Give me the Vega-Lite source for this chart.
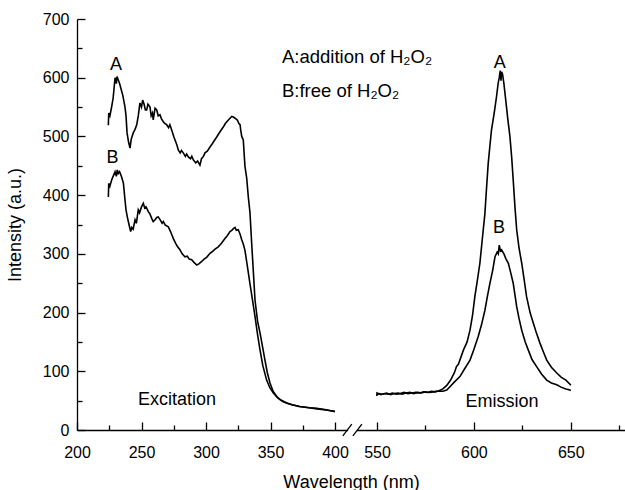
{
  "$schema": "https://vega.github.io/schema/vega-lite/v6.json",
  "width": 548,
  "height": 411,
  "autosize": {"type": "none"},
  "padding": {"left": 77, "top": 19, "right": 0, "bottom": 60},
  "background": "white",
  "config": {
    "font": "Liberation Sans",
    "view": {"stroke": null},
    "axis": {
      "grid": false,
      "domainColor": "black",
      "domainWidth": 1.3,
      "tickColor": "black",
      "tickWidth": 1.3,
      "tickCount": 40,
      "labelColor": "black",
      "labelFont": "Liberation Sans",
      "labelFontSize": 16,
      "labelOverlap": false,
      "labelFlush": false,
      "labelBound": false,
      "titleFont": "Liberation Sans",
      "titleFontSize": 18,
      "titleFontWeight": "normal",
      "titleColor": "black"
    }
  },
  "datasets": {
    "spectra": [
      {"series": "A-ex", "wl": 224.3, "intensity": 519}, {"series": "A-ex", "wl": 224.6, "intensity": 540}, {"series": "A-ex", "wl": 225.5, "intensity": 535}, {"series": "A-ex", "wl": 226.9, "intensity": 551}, {"series": "A-ex", "wl": 228, "intensity": 565}, {"series": "A-ex", "wl": 229.5, "intensity": 600}, {"series": "A-ex", "wl": 230.5, "intensity": 590}, {"series": "A-ex", "wl": 231, "intensity": 602}, {"series": "A-ex", "wl": 232, "intensity": 596}, {"series": "A-ex", "wl": 233, "intensity": 590}, {"series": "A-ex", "wl": 233.9, "intensity": 583}, {"series": "A-ex", "wl": 235.5, "intensity": 570}, {"series": "A-ex", "wl": 237.2, "intensity": 550}, {"series": "A-ex", "wl": 238, "intensity": 535}, {"series": "A-ex", "wl": 238.8, "intensity": 506}, {"series": "A-ex", "wl": 240, "intensity": 490}, {"series": "A-ex", "wl": 241.1, "intensity": 480}, {"series": "A-ex", "wl": 242, "intensity": 495}, {"series": "A-ex", "wl": 243.6, "intensity": 506}, {"series": "A-ex", "wl": 245, "intensity": 512}, {"series": "A-ex", "wl": 246.3, "intensity": 520}, {"series": "A-ex", "wl": 247.5, "intensity": 535}, {"series": "A-ex", "wl": 248.8, "intensity": 557}, {"series": "A-ex", "wl": 250, "intensity": 550}, {"series": "A-ex", "wl": 250.9, "intensity": 562}, {"series": "A-ex", "wl": 252, "intensity": 555}, {"series": "A-ex", "wl": 253, "intensity": 545}, {"series": "A-ex", "wl": 254, "intensity": 545}, {"series": "A-ex", "wl": 255, "intensity": 555}, {"series": "A-ex", "wl": 256.6, "intensity": 550}, {"series": "A-ex", "wl": 257.5, "intensity": 535}, {"series": "A-ex", "wl": 258.5, "intensity": 540}, {"series": "A-ex", "wl": 259.1, "intensity": 528}, {"series": "A-ex", "wl": 260.5, "intensity": 548}, {"series": "A-ex", "wl": 261.8, "intensity": 545}, {"series": "A-ex", "wl": 263, "intensity": 535}, {"series": "A-ex", "wl": 264.3, "intensity": 537}, {"series": "A-ex", "wl": 265.5, "intensity": 530}, {"series": "A-ex", "wl": 266.9, "intensity": 525}, {"series": "A-ex", "wl": 268, "intensity": 522}, {"series": "A-ex", "wl": 269.5, "intensity": 520}, {"series": "A-ex", "wl": 271, "intensity": 515}, {"series": "A-ex", "wl": 272, "intensity": 520}, {"series": "A-ex", "wl": 273.4, "intensity": 511}, {"series": "A-ex", "wl": 275, "intensity": 500}, {"series": "A-ex", "wl": 276, "intensity": 494}, {"series": "A-ex", "wl": 277.5, "intensity": 485}, {"series": "A-ex", "wl": 278.5, "intensity": 477}, {"series": "A-ex", "wl": 280, "intensity": 472}, {"series": "A-ex", "wl": 281, "intensity": 476}, {"series": "A-ex", "wl": 282.4, "intensity": 472}, {"series": "A-ex", "wl": 284, "intensity": 466}, {"series": "A-ex", "wl": 285, "intensity": 470}, {"series": "A-ex", "wl": 286.3, "intensity": 465}, {"series": "A-ex", "wl": 288, "intensity": 462}, {"series": "A-ex", "wl": 289, "intensity": 466}, {"series": "A-ex", "wl": 290.2, "intensity": 460}, {"series": "A-ex", "wl": 292, "intensity": 455}, {"series": "A-ex", "wl": 293.5, "intensity": 458}, {"series": "A-ex", "wl": 295.3, "intensity": 451}, {"series": "A-ex", "wl": 296.5, "intensity": 462}, {"series": "A-ex", "wl": 298, "intensity": 466}, {"series": "A-ex", "wl": 299.2, "intensity": 472}, {"series": "A-ex", "wl": 301, "intensity": 475}, {"series": "A-ex", "wl": 303.1, "intensity": 482}, {"series": "A-ex", "wl": 305, "intensity": 488}, {"series": "A-ex", "wl": 306.5, "intensity": 493}, {"series": "A-ex", "wl": 308.3, "intensity": 499}, {"series": "A-ex", "wl": 310, "intensity": 505}, {"series": "A-ex", "wl": 311.5, "intensity": 510}, {"series": "A-ex", "wl": 313.4, "intensity": 516}, {"series": "A-ex", "wl": 315, "intensity": 522}, {"series": "A-ex", "wl": 317, "intensity": 527}, {"series": "A-ex", "wl": 318.6, "intensity": 531}, {"series": "A-ex", "wl": 320, "intensity": 534}, {"series": "A-ex", "wl": 321.2, "intensity": 533}, {"series": "A-ex", "wl": 322.5, "intensity": 531}, {"series": "A-ex", "wl": 324.3, "intensity": 528}, {"series": "A-ex", "wl": 325.5, "intensity": 522}, {"series": "A-ex", "wl": 326.4, "intensity": 520}, {"series": "A-ex", "wl": 326.9, "intensity": 511}, {"series": "A-ex", "wl": 327.7, "intensity": 500}, {"series": "A-ex", "wl": 328.9, "intensity": 494}, {"series": "A-ex", "wl": 330.2, "intensity": 449}, {"series": "A-ex", "wl": 331.5, "intensity": 430}, {"series": "A-ex", "wl": 332.8, "intensity": 397}, {"series": "A-ex", "wl": 334.1, "intensity": 370}, {"series": "A-ex", "wl": 335.4, "intensity": 318}, {"series": "A-ex", "wl": 336, "intensity": 296}, {"series": "A-ex", "wl": 338, "intensity": 221}, {"series": "A-ex", "wl": 340, "intensity": 185}, {"series": "A-ex", "wl": 341.9, "intensity": 165}, {"series": "A-ex", "wl": 344, "intensity": 140}, {"series": "A-ex", "wl": 345.7, "intensity": 119}, {"series": "A-ex", "wl": 347.5, "intensity": 98}, {"series": "A-ex", "wl": 349.6, "intensity": 80}, {"series": "A-ex", "wl": 352, "intensity": 66}, {"series": "A-ex", "wl": 354.8, "intensity": 57}, {"series": "A-ex", "wl": 358, "intensity": 51}, {"series": "A-ex", "wl": 362.6, "intensity": 46}, {"series": "A-ex", "wl": 367, "intensity": 43}, {"series": "A-ex", "wl": 372.9, "intensity": 40}, {"series": "A-ex", "wl": 380, "intensity": 38}, {"series": "A-ex", "wl": 385.8, "intensity": 37}, {"series": "A-ex", "wl": 392, "intensity": 35}, {"series": "A-ex", "wl": 400, "intensity": 31},

      {"series": "B-ex", "wl": 224.3, "intensity": 397}, {"series": "B-ex", "wl": 224.6, "intensity": 420}, {"series": "B-ex", "wl": 225.5, "intensity": 415}, {"series": "B-ex", "wl": 226.9, "intensity": 426}, {"series": "B-ex", "wl": 228, "intensity": 432}, {"series": "B-ex", "wl": 229.5, "intensity": 440}, {"series": "B-ex", "wl": 230.5, "intensity": 432}, {"series": "B-ex", "wl": 231.2, "intensity": 443}, {"series": "B-ex", "wl": 232, "intensity": 437}, {"series": "B-ex", "wl": 233, "intensity": 440}, {"series": "B-ex", "wl": 234.6, "intensity": 431}, {"series": "B-ex", "wl": 236, "intensity": 420}, {"series": "B-ex", "wl": 237.2, "intensity": 392}, {"series": "B-ex", "wl": 238, "intensity": 375}, {"series": "B-ex", "wl": 239, "intensity": 363}, {"series": "B-ex", "wl": 240.3, "intensity": 350}, {"series": "B-ex", "wl": 241.6, "intensity": 338}, {"series": "B-ex", "wl": 242.4, "intensity": 345}, {"series": "B-ex", "wl": 243.5, "intensity": 342}, {"series": "B-ex", "wl": 245, "intensity": 358}, {"series": "B-ex", "wl": 246, "intensity": 352}, {"series": "B-ex", "wl": 247.5, "intensity": 375}, {"series": "B-ex", "wl": 248.5, "intensity": 370}, {"series": "B-ex", "wl": 250, "intensity": 380}, {"series": "B-ex", "wl": 251.4, "intensity": 386}, {"series": "B-ex", "wl": 252.5, "intensity": 378}, {"series": "B-ex", "wl": 253.5, "intensity": 380}, {"series": "B-ex", "wl": 255.3, "intensity": 372}, {"series": "B-ex", "wl": 256.5, "intensity": 368}, {"series": "B-ex", "wl": 258, "intensity": 360}, {"series": "B-ex", "wl": 259.1, "intensity": 355}, {"series": "B-ex", "wl": 260.5, "intensity": 358}, {"series": "B-ex", "wl": 261.8, "intensity": 362}, {"series": "B-ex", "wl": 263, "intensity": 363}, {"series": "B-ex", "wl": 264.5, "intensity": 358}, {"series": "B-ex", "wl": 266, "intensity": 352}, {"series": "B-ex", "wl": 266.9, "intensity": 355}, {"series": "B-ex", "wl": 268.5, "intensity": 349}, {"series": "B-ex", "wl": 270.8, "intensity": 346}, {"series": "B-ex", "wl": 272.5, "intensity": 338}, {"series": "B-ex", "wl": 274.7, "intensity": 326}, {"series": "B-ex", "wl": 276.5, "intensity": 318}, {"series": "B-ex", "wl": 278, "intensity": 312}, {"series": "B-ex", "wl": 279.8, "intensity": 307}, {"series": "B-ex", "wl": 281.5, "intensity": 300}, {"series": "B-ex", "wl": 283.7, "intensity": 295}, {"series": "B-ex", "wl": 285.5, "intensity": 296}, {"series": "B-ex", "wl": 287, "intensity": 291}, {"series": "B-ex", "wl": 288.9, "intensity": 290}, {"series": "B-ex", "wl": 290.5, "intensity": 286}, {"series": "B-ex", "wl": 292.8, "intensity": 281}, {"series": "B-ex", "wl": 294.5, "intensity": 283}, {"series": "B-ex", "wl": 296.7, "intensity": 287}, {"series": "B-ex", "wl": 298.5, "intensity": 291}, {"series": "B-ex", "wl": 300.5, "intensity": 294}, {"series": "B-ex", "wl": 303.1, "intensity": 301}, {"series": "B-ex", "wl": 305, "intensity": 304}, {"series": "B-ex", "wl": 307, "intensity": 308}, {"series": "B-ex", "wl": 309.5, "intensity": 312}, {"series": "B-ex", "wl": 312, "intensity": 318}, {"series": "B-ex", "wl": 314.7, "intensity": 326}, {"series": "B-ex", "wl": 316.5, "intensity": 331}, {"series": "B-ex", "wl": 318.6, "intensity": 338}, {"series": "B-ex", "wl": 320, "intensity": 340}, {"series": "B-ex", "wl": 321.2, "intensity": 343}, {"series": "B-ex", "wl": 322.5, "intensity": 345}, {"series": "B-ex", "wl": 323.5, "intensity": 340}, {"series": "B-ex", "wl": 325, "intensity": 341}, {"series": "B-ex", "wl": 326.5, "intensity": 333}, {"series": "B-ex", "wl": 327.7, "intensity": 324}, {"series": "B-ex", "wl": 329, "intensity": 316}, {"series": "B-ex", "wl": 330.2, "intensity": 306}, {"series": "B-ex", "wl": 332, "intensity": 280}, {"series": "B-ex", "wl": 334, "intensity": 250}, {"series": "B-ex", "wl": 336, "intensity": 222}, {"series": "B-ex", "wl": 338, "intensity": 193}, {"series": "B-ex", "wl": 340, "intensity": 162}, {"series": "B-ex", "wl": 341.9, "intensity": 136}, {"series": "B-ex", "wl": 344, "intensity": 110}, {"series": "B-ex", "wl": 347, "intensity": 85}, {"series": "B-ex", "wl": 349.5, "intensity": 72}, {"series": "B-ex", "wl": 352.2, "intensity": 63}, {"series": "B-ex", "wl": 356, "intensity": 54}, {"series": "B-ex", "wl": 359.9, "intensity": 48}, {"series": "B-ex", "wl": 365, "intensity": 44}, {"series": "B-ex", "wl": 372, "intensity": 40}, {"series": "B-ex", "wl": 380, "intensity": 38}, {"series": "B-ex", "wl": 386, "intensity": 36}, {"series": "B-ex", "wl": 393, "intensity": 34}, {"series": "B-ex", "wl": 400, "intensity": 32},

      {"series": "A-em", "wl": 549.5, "intensity": 58}, {"series": "A-em", "wl": 550, "intensity": 63}, {"series": "A-em", "wl": 552, "intensity": 60}, {"series": "A-em", "wl": 554, "intensity": 62}, {"series": "A-em", "wl": 556, "intensity": 61}, {"series": "A-em", "wl": 558, "intensity": 63}, {"series": "A-em", "wl": 560, "intensity": 61}, {"series": "A-em", "wl": 562, "intensity": 62}, {"series": "A-em", "wl": 564, "intensity": 64}, {"series": "A-em", "wl": 566, "intensity": 62}, {"series": "A-em", "wl": 568, "intensity": 63}, {"series": "A-em", "wl": 570, "intensity": 64}, {"series": "A-em", "wl": 572, "intensity": 63}, {"series": "A-em", "wl": 574, "intensity": 65}, {"series": "A-em", "wl": 576, "intensity": 64}, {"series": "A-em", "wl": 578, "intensity": 66}, {"series": "A-em", "wl": 580, "intensity": 65}, {"series": "A-em", "wl": 582, "intensity": 67}, {"series": "A-em", "wl": 584, "intensity": 70}, {"series": "A-em", "wl": 586, "intensity": 76}, {"series": "A-em", "wl": 588, "intensity": 85}, {"series": "A-em", "wl": 590, "intensity": 98}, {"series": "A-em", "wl": 591, "intensity": 108}, {"series": "A-em", "wl": 592, "intensity": 112}, {"series": "A-em", "wl": 594.6, "intensity": 136}, {"series": "A-em", "wl": 596.5, "intensity": 150}, {"series": "A-em", "wl": 598, "intensity": 170}, {"series": "A-em", "wl": 599.3, "intensity": 195}, {"series": "A-em", "wl": 600.5, "intensity": 227}, {"series": "A-em", "wl": 601.8, "intensity": 255}, {"series": "A-em", "wl": 603.1, "intensity": 284}, {"series": "A-em", "wl": 604.5, "intensity": 330}, {"series": "A-em", "wl": 605.7, "intensity": 369}, {"series": "A-em", "wl": 606.5, "intensity": 410}, {"series": "A-em", "wl": 607.4, "intensity": 454}, {"series": "A-em", "wl": 608.3, "intensity": 485}, {"series": "A-em", "wl": 609.1, "intensity": 511}, {"series": "A-em", "wl": 610.5, "intensity": 540}, {"series": "A-em", "wl": 611.7, "intensity": 568}, {"series": "A-em", "wl": 612.5, "intensity": 590}, {"series": "A-em", "wl": 613.1, "intensity": 600}, {"series": "A-em", "wl": 613.6, "intensity": 612}, {"series": "A-em", "wl": 614, "intensity": 595}, {"series": "A-em", "wl": 614.3, "intensity": 610}, {"series": "A-em", "wl": 614.8, "intensity": 606}, {"series": "A-em", "wl": 615.5, "intensity": 590}, {"series": "A-em", "wl": 616.5, "intensity": 560}, {"series": "A-em", "wl": 617.5, "intensity": 530}, {"series": "A-em", "wl": 618.6, "intensity": 500}, {"series": "A-em", "wl": 619.5, "intensity": 465}, {"series": "A-em", "wl": 620.3, "intensity": 426}, {"series": "A-em", "wl": 621.2, "intensity": 380}, {"series": "A-em", "wl": 622.1, "intensity": 341}, {"series": "A-em", "wl": 623.3, "intensity": 310}, {"series": "A-em", "wl": 624.7, "intensity": 284}, {"series": "A-em", "wl": 626, "intensity": 255}, {"series": "A-em", "wl": 627.2, "intensity": 227}, {"series": "A-em", "wl": 629, "intensity": 200}, {"series": "A-em", "wl": 630.7, "intensity": 182}, {"series": "A-em", "wl": 632.3, "intensity": 165}, {"series": "A-em", "wl": 634.1, "intensity": 148}, {"series": "A-em", "wl": 636, "intensity": 132}, {"series": "A-em", "wl": 637.6, "intensity": 119}, {"series": "A-em", "wl": 640, "intensity": 107}, {"series": "A-em", "wl": 642.8, "intensity": 97}, {"series": "A-em", "wl": 645, "intensity": 90}, {"series": "A-em", "wl": 647.5, "intensity": 85}, {"series": "A-em", "wl": 649.6, "intensity": 78}, {"series": "A-em", "wl": 650, "intensity": 76},

      {"series": "B-em", "wl": 549.5, "intensity": 60}, {"series": "B-em", "wl": 551, "intensity": 62}, {"series": "B-em", "wl": 553, "intensity": 61}, {"series": "B-em", "wl": 555, "intensity": 63}, {"series": "B-em", "wl": 557, "intensity": 60}, {"series": "B-em", "wl": 559, "intensity": 62}, {"series": "B-em", "wl": 561, "intensity": 63}, {"series": "B-em", "wl": 563, "intensity": 61}, {"series": "B-em", "wl": 565, "intensity": 63}, {"series": "B-em", "wl": 567, "intensity": 64}, {"series": "B-em", "wl": 569, "intensity": 62}, {"series": "B-em", "wl": 571, "intensity": 64}, {"series": "B-em", "wl": 573, "intensity": 63}, {"series": "B-em", "wl": 575, "intensity": 65}, {"series": "B-em", "wl": 577, "intensity": 64}, {"series": "B-em", "wl": 579, "intensity": 65}, {"series": "B-em", "wl": 581, "intensity": 66}, {"series": "B-em", "wl": 584, "intensity": 66}, {"series": "B-em", "wl": 586, "intensity": 68}, {"series": "B-em", "wl": 588, "intensity": 75}, {"series": "B-em", "wl": 590, "intensity": 82}, {"series": "B-em", "wl": 592.8, "intensity": 91}, {"series": "B-em", "wl": 595, "intensity": 103}, {"series": "B-em", "wl": 598, "intensity": 119}, {"series": "B-em", "wl": 600, "intensity": 137}, {"series": "B-em", "wl": 602.2, "intensity": 159}, {"series": "B-em", "wl": 604, "intensity": 180}, {"series": "B-em", "wl": 605.7, "intensity": 204}, {"series": "B-em", "wl": 607, "intensity": 228}, {"series": "B-em", "wl": 608.3, "intensity": 250}, {"series": "B-em", "wl": 609.7, "intensity": 272}, {"series": "B-em", "wl": 610.9, "intensity": 295}, {"series": "B-em", "wl": 612, "intensity": 303}, {"series": "B-em", "wl": 612.6, "intensity": 300}, {"series": "B-em", "wl": 613.1, "intensity": 315}, {"series": "B-em", "wl": 613.7, "intensity": 305}, {"series": "B-em", "wl": 614.3, "intensity": 307}, {"series": "B-em", "wl": 615.5, "intensity": 300}, {"series": "B-em", "wl": 616.5, "intensity": 292}, {"series": "B-em", "wl": 617.8, "intensity": 284}, {"series": "B-em", "wl": 619, "intensity": 268}, {"series": "B-em", "wl": 620.3, "intensity": 250}, {"series": "B-em", "wl": 621.2, "intensity": 230}, {"series": "B-em", "wl": 622.1, "intensity": 210}, {"series": "B-em", "wl": 623.3, "intensity": 190}, {"series": "B-em", "wl": 624.7, "intensity": 170}, {"series": "B-em", "wl": 626.5, "intensity": 150}, {"series": "B-em", "wl": 628.1, "intensity": 136}, {"series": "B-em", "wl": 630, "intensity": 120}, {"series": "B-em", "wl": 632.4, "intensity": 108}, {"series": "B-em", "wl": 635, "intensity": 95}, {"series": "B-em", "wl": 637.6, "intensity": 85}, {"series": "B-em", "wl": 640, "intensity": 80}, {"series": "B-em", "wl": 642.8, "intensity": 77}, {"series": "B-em", "wl": 645, "intensity": 73}, {"series": "B-em", "wl": 647.5, "intensity": 70}, {"series": "B-em", "wl": 649.6, "intensity": 68}, {"series": "B-em", "wl": 650, "intensity": 67}
    ],
    "labels": [
      {"wl": 230.2, "intensity": 622, "text": "A"},
      {"wl": 227.6, "intensity": 463, "text": "B"},
      {"wl": 613.4, "intensity": 625, "text": "A"},
      {"wl": 613, "intensity": 344, "text": "B"},
      {"wl": 277.5, "intensity": 51, "text": "Excitation"},
      {"wl": 614.5, "intensity": 48, "text": "Emission"}
    ],
    "legend": [
      {"wl": 358.9, "intensity": 635, "text": "A:addition of H₂O₂"},
      {"wl": 358.9, "intensity": 577, "text": "B:free of H₂O₂"}
    ]
  },
  "layer": [
    {
      "data": {"name": "spectra"},
      "mark": {"type": "line", "color": "black", "strokeWidth": 1.6, "clip": false},
      "encoding": {
        "x": {
          "field": "wl",
          "type": "quantitative",
          "scale": {"domain": [200, 400, 550, 678], "range": [0, 258, 300, 548], "nice": false, "zero": false},
          "axis": {
            "title": "Wavelength (nm)",
            "values": [200, 225, 250, 275, 300, 325, 350, 375, 400, 550, 575, 600, 625, 650, 675],
            "tickCount": 40,
            "labelExpr": "datum.value % 50 === 0 ? datum.label : ''",
            "tickSize": {"condition": {"test": "datum.value % 50 === 0", "value": -8}, "value": -5},
            "labelPadding": 22,
            "titlePadding": 10
          }
        },
        "y": {
          "field": "intensity",
          "type": "quantitative",
          "scale": {"domain": [0, 700], "nice": false},
          "axis": {
            "title": "Intensity (a.u.)",
            "values": [0, 50, 100, 150, 200, 250, 300, 350, 400, 450, 500, 550, 600, 650, 700],
            "tickCount": 40,
            "labelExpr": "datum.value % 100 === 0 ? datum.label : ''",
            "tickSize": {"condition": {"test": "datum.value % 100 === 0", "value": -8}, "value": -5},
            "labelPadding": 16,
            "titlePadding": 18
          }
        },
        "detail": {"field": "series", "type": "nominal"}
      }
    },
    {
      "data": {"name": "labels"},
      "mark": {"type": "text", "fontSize": 18, "color": "black", "align": "center", "baseline": "middle"},
      "encoding": {
        "x": {"field": "wl", "type": "quantitative"},
        "y": {"field": "intensity", "type": "quantitative"},
        "text": {"field": "text"}
      }
    },
    {
      "data": {"name": "legend"},
      "mark": {"type": "text", "fontSize": 18.5, "color": "black", "align": "left", "baseline": "middle"},
      "encoding": {
        "x": {"field": "wl", "type": "quantitative"},
        "y": {"field": "intensity", "type": "quantitative"},
        "text": {"field": "text"}
      }
    },
    {
      "data": {"values": [{}]},
      "mark": {"type": "rect", "color": "white", "clip": false},
      "encoding": {
        "x": {"datum": 447},
        "x2": {"datum": 479},
        "y": {"datum": -5},
        "y2": {"datum": 5}
      }
    },
    {
      "data": {"values": [{}]},
      "mark": {"type": "rule", "color": "black", "strokeWidth": 1.3, "clip": false},
      "encoding": {
        "x": {"datum": 428},
        "x2": {"datum": 460},
        "y": {"datum": -10},
        "y2": {"datum": 10}
      }
    },
    {
      "data": {"values": [{}]},
      "mark": {"type": "rule", "color": "black", "strokeWidth": 1.3, "clip": false},
      "encoding": {
        "x": {"datum": 464},
        "x2": {"datum": 496},
        "y": {"datum": -10},
        "y2": {"datum": 10}
      }
    }
  ]
}
